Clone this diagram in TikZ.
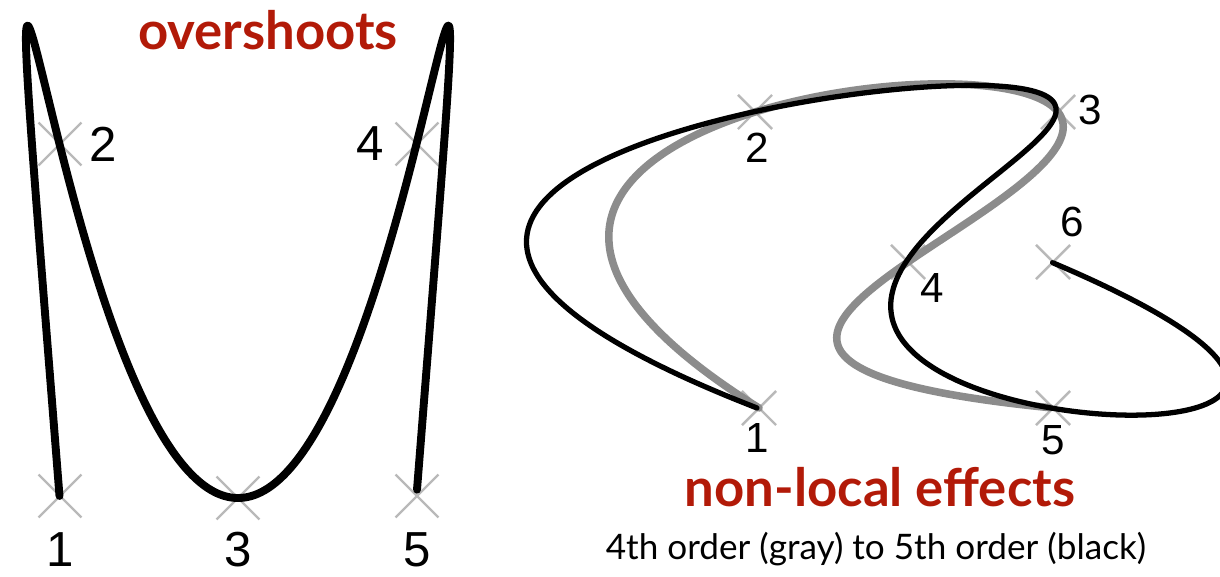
\documentclass[tikz,border=0pt]{standalone}
\usepackage{fontspec}
\setmainfont{Liberation Sans}
\newfontfamily\captfont{Lato}
\usetikzlibrary{shapes.misc}

\definecolor{slidered}{RGB}{178,26,8}
\definecolor{markgray}{RGB}{185,185,185}
\definecolor{curvegray}{RGB}{140,140,140}

\tikzset{
  ptmark/.style={cross out,draw=markgray,line width=1.4pt,minimum size=#1,inner sep=0pt},
  ptmark/.default=23pt,
  numbig/.style={font=\fontsize{28}{30}\selectfont},
  numsmall/.style={font=\fontsize{24}{26}\selectfont},
  thickcurve/.style={line width=4.5pt,line cap=round,line join=round},
  blackcurve/.style={line width=3pt,line cap=round,line join=round},
  graycurve/.style={curvegray,line width=4.3pt,line cap=round,line join=round},
  headline/.style={text=slidered,font=\captfont\bfseries\fontsize{#1}{#1}\selectfont},
  declare function={
    bA(\t)=\t;
    bB(\t)=\t*(\t-1)/2;
    bC(\t)=\t*(\t-1)*(\t-2)/6;
    bD(\t)=\t*(\t-1)*(\t-2)*(\t-3)/24;
    bE(\t)=\t*(\t-1)*(\t-2)*(\t-3)*(\t-4)/120;
  }
}

\begin{document}
\begin{tikzpicture}[x=0.02cm,y=-0.02cm]
\useasboundingbox (0,0) rectangle (1220,577);

% overshoots (left)
\node[ptmark] (p1) at (60,496) {};
\node[ptmark] (p2) at (60,144) {};
\node[ptmark] (p3) at (238,498) {};
\node[ptmark] (p4) at (417,144) {};
\node[ptmark] (p5) at (417,496) {};
\draw[thickcurve] plot[domain=-2:2,samples=300,smooth]
  ({238+208.25*\x-29.75*\x*\x*\x},{498-471.83*\x*\x+117.83*\x*\x*\x*\x});
\node[numbig] (n1) at (60,550) {1};
\node[numbig] (n2) at (103,144) {2};
\node[numbig] (n3) at (238,550) {3};
\node[numbig] (n4) at (370,144) {4};
\node[numbig] (n5) at (417,550) {5};
\node[headline=30] (over) at (268,30) {overshoots};

% non-local effects (right)
\node[ptmark=18pt] (q1) at (759,408) {};
\node[ptmark=18pt] (q2) at (755,112) {};
\node[ptmark=18pt] (q3) at (1058,112) {};
\node[ptmark=18pt] (q4) at (908,262) {};
\node[ptmark=18pt] (q5) at (1053,408) {};
\node[ptmark=18pt] (q6) at (1053,262) {};
\draw[graycurve] plot[domain=0:4,samples=300,smooth]
  ({759-4*bA(\x)+307*bB(\x)-760*bC(\x)+1508*bD(\x)},
   {408-296*bA(\x)+296*bB(\x)-146*bC(\x)-8*bD(\x)});
\draw[blackcurve] plot[domain=0:5,samples=400,smooth]
  ({757-4*bA(\x)+307*bB(\x)-760*bC(\x)+1508*bD(\x)-2696*bE(\x)},
   {408-296*bA(\x)+296*bB(\x)-146*bC(\x)-8*bD(\x)-126*bE(\x)});
\node[numsmall] (m1) at (757,438) {1};
\node[numsmall] (m2) at (757,148) {2};
\node[numsmall] (m3) at (1090,110) {3};
\node[numsmall] (m4) at (932,288) {4};
\node[numsmall] (m5) at (1053,440) {5};
\node[numsmall] (m6) at (1072,222) {6};
\node[headline=30] (nonlocal) at (880,487) {non-local effects};
\node[font=\captfont\fontsize{20}{21}\selectfont] (caption) at (876,549) {4th order (gray) to 5th order (black)};
\end{tikzpicture}
\end{document}
